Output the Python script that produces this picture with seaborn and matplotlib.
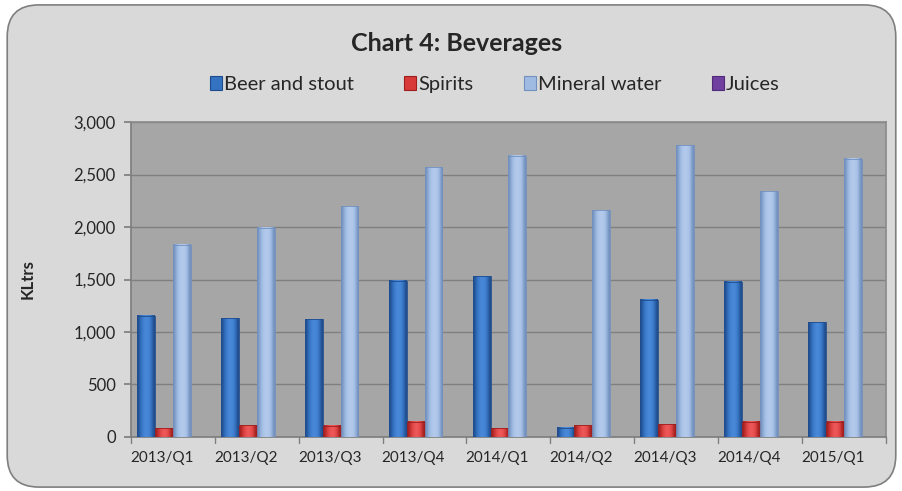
import matplotlib
matplotlib.use("Agg")
import matplotlib.pyplot as plt
import matplotlib.transforms as mtrans
import numpy as np
import seaborn as sns
import pandas as pd
from matplotlib.patches import FancyBboxPatch
from matplotlib.colors import LinearSegmentedColormap
from matplotlib.ticker import FuncFormatter

quarters = ["2013/Q1", "2013/Q2", "2013/Q3", "2013/Q4", "2014/Q1",
            "2014/Q2", "2014/Q3", "2014/Q4", "2015/Q1"]
beer = [1155, 1130, 1120, 1486, 1533, 89, 1305, 1479, 1095]
spirits = [83, 114, 105, 146, 83, 114, 120, 146, 146]
mineral = [1829, 1993, 2200, 2568, 2679, 2162, 2781, 2343, 2648]
juices = [0, 0, 0, 0, 0, 0, 0, 0, 0]
series = ["Beer and stout", "Spirits", "Mineral water", "Juices"]
colors = ["#3473C2", "#D83A3A", "#9FBBE2", "#7040A0"]
dark = ["#1F4C8C", "#9E1E1E", "#7290BE", "#4E2A78"]
light = ["#4A8ADA", "#EE5A5A", "#B4CBEC", "#8A5CC0"]

rows = []
for name, vals in zip(series, [beer, spirits, mineral, juices]):
    for q, v in zip(quarters, vals):
        rows.append({"Quarter": q, "Series": name, "Value": v})
df = pd.DataFrame(rows)

sns.set_theme(style="white")
plt.rcParams["font.family"] = ["Lato", "DejaVu Sans"]

fig = plt.figure(figsize=(9.03, 4.91), dpi=100)
fig.patch.set_facecolor("white")
bg = FancyBboxPatch((0.008, 0.008), 0.984, 0.982,
                    boxstyle="round,pad=0,rounding_size=0.035",
                    transform=fig.transFigure, facecolor="#D9D9D9",
                    edgecolor="#7F7F7F", linewidth=1.2, zorder=-5,
                    mutation_aspect=903 / 491)
fig.patches.append(bg)

ax = fig.add_axes([0.145, 0.110, 0.836, 0.6415])
ax.set_zorder(2)
ax.set_facecolor("#A6A6A6")
sns.barplot(data=df, x="Quarter", y="Value", hue="Series", order=quarters,
            hue_order=series, palette=colors, width=0.85, ax=ax,
            legend=False, saturation=1)

grad = np.array([[0.0, 0.45, 0.8, 1.0, 0.9, 0.6, 0.0]])
for i, cont in enumerate(ax.containers):
    cmap = LinearSegmentedColormap.from_list(
        f"g{i}", [dark[i], colors[i], light[i]])
    for p in cont:
        p.set_edgecolor(dark[i])
        p.set_linewidth(0.6)
        p.set_zorder(4)
        p.set_facecolor("none")
        x, w, h = p.get_x(), p.get_width(), p.get_height()
        if h > 0:
            ax.imshow(grad, cmap=cmap, vmin=0, vmax=1, aspect="auto",
                      extent=[x, x + w, 0, h], zorder=3,
                      interpolation="bicubic")

ax.set_xlim(-0.5, len(quarters) - 0.5)
ax.set_ylim(0, 3000)
ax.set_yticks(range(0, 3001, 500))
ax.yaxis.set_major_formatter(FuncFormatter(lambda v, _: f"{int(v):,}"))
ax.grid(axis="y", color="#7F7F7F", linewidth=1.0, zorder=1)
ax.set_axisbelow(True)
for s in ["top", "right"]:
    ax.spines[s].set_color("#8C8C8C")
ax.spines["left"].set_color("#7F7F7F")
ax.spines["bottom"].set_color("#7F7F7F")
ax.tick_params(axis="y", labelsize=12, length=5, color="#7F7F7F", left=True, pad=6)
ax.tick_params(axis="x", labelsize=11, length=0, pad=10)
ax.set_xlabel("")
ax.set_ylabel("KLtrs", fontsize=12, fontweight="bold", labelpad=27)
for i in range(len(quarters) + 1):
    ax.plot([i - 0.5, i - 0.5], [0, -0.02], transform=ax.get_xaxis_transform(),
            color="#7F7F7F", lw=1, clip_on=False)
shift = mtrans.ScaledTranslation(-11 / 100, 0, fig.dpi_scale_trans)
for lbl in ax.get_xticklabels():
    lbl.set_transform(lbl.get_transform() + shift)

fig.text(0.506, 0.912, "Chart 4: Beverages", ha="center", va="center",
         fontsize=18, fontweight="bold")

handles = [plt.Rectangle((0, 0), 1, 1, facecolor=c, edgecolor=e, lw=0.8)
           for c, e in zip(colors, dark)]
fig.legend(handles, series, loc="center", bbox_to_anchor=(0.548, 0.827),
           ncol=4, frameon=False, fontsize=14.5, handlelength=0.6,
           handleheight=0.7, handletextpad=0.1, columnspacing=2.5)

fig.savefig("out.png", dpi=100, facecolor="white")
